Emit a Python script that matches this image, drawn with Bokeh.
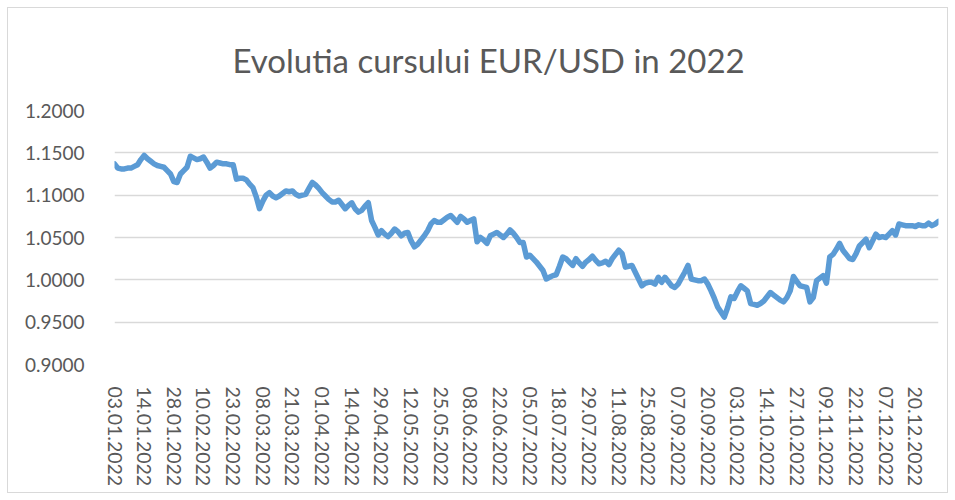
from bokeh.plotting import figure
from bokeh.models import Range1d, FixedTicker, NumeralTickFormatter
from bokeh.embed import file_html
from bokeh.resources import INLINE

title_text = "Evolutia cursului EUR/USD in 2022"

tick_labels = ["03.01.2022", "14.01.2022", "28.01.2022", "10.02.2022", "23.02.2022",
               "08.03.2022", "21.03.2022", "01.04.2022", "14.04.2022", "29.04.2022",
               "12.05.2022", "25.05.2022", "08.06.2022", "22.06.2022", "05.07.2022",
               "18.07.2022", "29.07.2022", "11.08.2022", "25.08.2022", "07.09.2022",
               "20.09.2022", "03.10.2022", "14.10.2022", "27.10.2022", "09.11.2022",
               "22.11.2022", "07.12.2022", "20.12.2022"]
label_step = 9

rates = [
    1.137, 1.132, 1.131, 1.131, 1.132, 1.132, 1.134, 1.136, 1.142, 1.147,
    1.143, 1.140, 1.137, 1.135, 1.134, 1.133, 1.129, 1.125, 1.116, 1.115,
    1.125, 1.129, 1.133, 1.146, 1.144, 1.142, 1.143, 1.145, 1.139, 1.132,
    1.135, 1.139, 1.138, 1.137, 1.137, 1.136, 1.136, 1.119, 1.120, 1.120,
    1.118, 1.113, 1.109, 1.098, 1.084, 1.093, 1.100, 1.103, 1.099, 1.097,
    1.099, 1.102, 1.105, 1.104, 1.105, 1.101, 1.099, 1.100, 1.101, 1.108,
    1.115, 1.112, 1.108, 1.103, 1.099, 1.095, 1.092, 1.092, 1.094, 1.089,
    1.084, 1.088, 1.091, 1.084, 1.080, 1.082, 1.087, 1.091, 1.070, 1.062,
    1.053, 1.058, 1.054, 1.051, 1.055, 1.060, 1.057, 1.052, 1.055, 1.056,
    1.046, 1.039, 1.042, 1.047, 1.052, 1.058, 1.066, 1.070, 1.068, 1.068,
    1.071, 1.074, 1.076, 1.072, 1.068, 1.075, 1.072, 1.068, 1.070, 1.072,
    1.045, 1.050, 1.047, 1.043, 1.052, 1.054, 1.056, 1.053, 1.050, 1.054,
    1.059, 1.055, 1.050, 1.044, 1.044, 1.027, 1.029, 1.025, 1.021, 1.016,
    1.011, 1.001, 1.003, 1.005, 1.006, 1.016, 1.027, 1.025, 1.021, 1.017,
    1.025, 1.020, 1.016, 1.021, 1.024, 1.028, 1.023, 1.019, 1.020, 1.022,
    1.018, 1.025, 1.030, 1.035, 1.031, 1.015, 1.016, 1.017, 1.009, 1.001,
    0.993, 0.996, 0.997, 0.997, 0.995, 1.003, 0.997, 1.003, 0.998, 0.993,
    0.991, 0.995, 1.002, 1.009, 1.017, 1.001, 1.000, 0.999, 0.999, 1.001,
    0.995, 0.987, 0.978, 0.968, 0.962, 0.956, 0.967, 0.980, 0.978, 0.986,
    0.993, 0.990, 0.987, 0.972, 0.971, 0.970, 0.972, 0.975, 0.980, 0.985,
    0.982, 0.979, 0.976, 0.974, 0.979, 0.987, 1.004, 0.998, 0.993, 0.992,
    0.991, 0.974, 0.979, 0.999, 1.002, 1.005, 0.996, 1.027, 1.030, 1.036,
    1.043, 1.035, 1.030, 1.025, 1.024, 1.031, 1.040, 1.044, 1.048, 1.038,
    1.046, 1.054, 1.050, 1.051, 1.050, 1.054, 1.058, 1.053, 1.066, 1.065,
    1.064, 1.064, 1.064, 1.063, 1.065, 1.064, 1.064, 1.067, 1.064, 1.066,
    1.069,
]

y_ticks = [0.90, 0.95, 1.00, 1.05, 1.10, 1.15, 1.20]

idx = list(range(len(rates)))
tick_pos = [i * label_step for i in range(len(tick_labels))]

FONT = "Lato"
GREY = "#595959"

p = figure(width=939, height=484, output_backend="svg", toolbar_location=None,
           x_range=Range1d(0, len(rates) - 1), y_range=Range1d(y_ticks[0], y_ticks[-1]),
           min_border_left=106, min_border_right=9, min_border_top=102, min_border_bottom=128)
p.outline_line_color = None
p.background_fill_color = "white"
p.border_fill_color = "white"
p.styles = {"margin": "8px", "outline": "1px solid #d9d9d9"}

p.title.text = title_text
p.title.align = "left"
p.title.offset = 118
p.title.standoff = 58
p.title.vertical_align = "top"
p.title.text_font = FONT
p.title.text_font_size = "33px"
p.title.text_font_style = "normal"
p.title.text_color = GREY

p.line(idx, rates, line_color="#5b9bd5", line_width=5.5, line_join="round", line_cap="round")

# y axis
p.yaxis.ticker = FixedTicker(ticks=y_ticks)
p.yaxis.formatter = NumeralTickFormatter(format="0.0000")
p.yaxis.axis_line_color = None
p.yaxis.major_tick_line_color = None
p.yaxis.minor_tick_line_color = None
p.yaxis.major_label_standoff = 24
p.yaxis.major_label_text_font = FONT
p.yaxis.major_label_text_font_size = "19px"
p.yaxis.major_label_text_color = GREY

# x axis
p.xaxis.ticker = FixedTicker(ticks=tick_pos)
p.xaxis.major_label_overrides = {t: lab for t, lab in zip(tick_pos, tick_labels)}
p.xaxis.major_label_orientation = "vertical"
p.xaxis.axis_line_color = None
p.xaxis.major_tick_line_color = None
p.xaxis.minor_tick_line_color = None
p.xaxis.major_label_standoff = 16
p.xaxis.major_label_text_font = FONT
p.xaxis.major_label_text_font_size = "19.5px"
p.xaxis.major_label_text_color = GREY

p.xgrid.grid_line_color = None
p.ygrid.grid_line_color = "#d9d9d9"
p.ygrid.grid_line_width = 1.3

open("out.html", "w").write(file_html(p, INLINE))
